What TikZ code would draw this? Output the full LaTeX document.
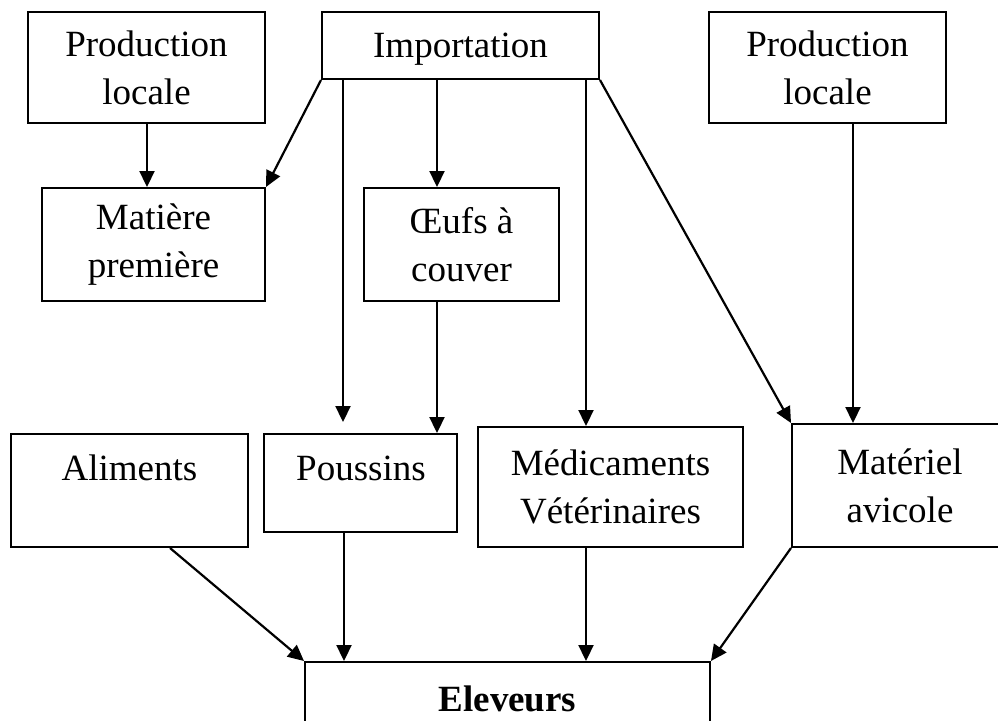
\documentclass[tikz,border=0pt]{standalone}
\usepackage{fontspec}
\setmainfont{Liberation Serif}
\usetikzlibrary{arrows.meta,calc}
\begin{document}
\begin{tikzpicture}[x=0.5pt,y=-0.5pt,
  box/.style={draw, line width=1pt, rectangle, inner sep=0pt, align=center, font=\fontsize{18.5}{24}\selectfont},
  txt/.style={inner sep=0pt, font=\fontsize{18.5}{24}\selectfont},
  arr/.style={line width=1.1pt, -{Triangle[length=8pt,width=7.5pt]}}]
\useasboundingbox (0,0) rectangle (998,720);
\node[box, minimum width=118.5pt, minimum height=55.5pt] (pl1) at (146.5,67.5) {Production\\locale};
\node[box, minimum width=138.5pt, minimum height=33.5pt] (imp) at (460.5,45.5) {\raisebox{-2pt}[\height][\depth]{Importation}};
\node[box, minimum width=118.5pt, minimum height=55.5pt] (pl2) at (827.5,67.5) {Production\\locale};
\node[box, minimum width=111.5pt, minimum height=56.5pt] (mat) at (153.5,244.5) {Matière\\première};
\node[box, minimum width=97.5pt, minimum height=56.5pt] (oeuf) at (461.5,244.5) {Œufs à\\couver};
\node[box, minimum width=118.5pt, minimum height=56.5pt] (alim) at (129.5,490.5) {};
\node[txt] at (129.5,468) {Aliments};
\node[box, minimum width=96.5pt, minimum height=49pt] (pous) at (360.5,483) {};
\node[txt] at (361,468) {Poussins};
\node[box, minimum width=132.5pt, minimum height=60pt] (med) at (610.5,487) {Médicaments\\Vétérinaires};
\node[box, minimum width=108pt, minimum height=61.5pt] (matl) at (900,485.5) {Matériel\\avicole};
\node[box, minimum width=202.5pt, minimum height=36.5pt] (elev) at (507.5,698.5) {\textbf{Eleveurs}};
\coordinate (x147) at (147,0);
\coordinate (x343) at (343,0);
\coordinate (x344) at (344,0);
\coordinate (x437) at (437,0);
\coordinate (x586) at (586,0);
\coordinate (x853) at (853,0);
\coordinate (x170) at (170,0);
\draw[arr] (pl1.south -| x147) -- (mat.north -| x147);
\draw[arr] (imp.south west) -- (mat.north east);
\draw[arr] (imp.south -| x343) -- ($(pous.north -| x343)+(0,-11)$);
\draw[arr] (imp.south -| x437) -- (oeuf.north -| x437);
\draw[arr] (oeuf.south -| x437) -- (pous.north -| x437);
\draw[arr] (imp.south -| x586) -- (med.north -| x586);
\draw[arr] (imp.south east) -- (matl.north west);
\draw[arr] (pl2.south -| x853) -- (matl.north -| x853);
\draw[arr] (alim.south -| x170) -- (elev.north west);
\draw[arr] (pous.south -| x344) -- (elev.north -| x344);
\draw[arr] (med.south -| x586) -- (elev.north -| x586);
\draw[arr] (matl.south west) -- (elev.north east);
\end{tikzpicture}
\end{document}
